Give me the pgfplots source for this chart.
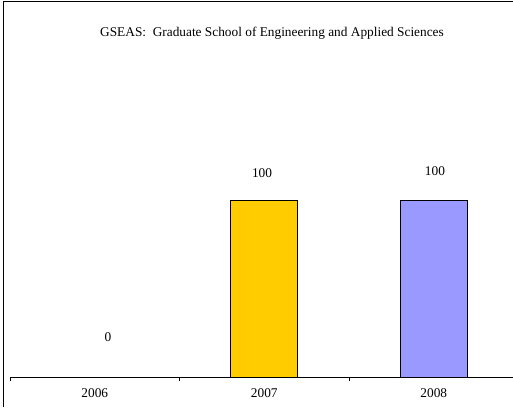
\documentclass[border=0pt]{standalone}
\usepackage{pgfplots}
\pgfplotsset{compat=1.18}
\usepackage{fontspec}
\setmainfont{Liberation Serif}
\begin{document}
\begin{tikzpicture}[x=0.75pt,y=0.75pt,font=\fontsize{10}{12}\selectfont]
\useasboundingbox (0,0) rectangle (513,407);
\draw[line width=0.75pt] (3,0) -- (3,405) -- (512.5,405);
\node at (272,374) {GSEAS:\ \ Graduate School of Engineering and Applied Sciences};
\begin{axis}[
  scale only axis,
  anchor=south west,
  at={(7.5pt,22.5pt)},
  width=377.25pt, height=264pt,
  xmin=-0.5, xmax=2.4676, ymin=0, ymax=200,
  hide y axis,
  axis x line*=bottom,
  x axis line style={-, line width=0.6pt},
  xtick={0,1,2},
  xticklabels={2006,2007,2008},
  major tick length=0pt,
  extra x ticks={-0.5,0.5,1.5},
  extra x tick labels={},
  extra x tick style={major tick length=3pt, tick align=outside, tick style={line width=0.6pt, black}},
  xticklabel style={font=\fontsize{10}{12}\selectfont, yshift=-5pt},
  ybar, bar width=50.25pt, bar shift=0pt,
  clip=false,
]
\addplot[draw=none, fill=none] coordinates {(0,0)};
\addplot[fill={rgb,255:red,255;green,204;blue,0}, draw=black, line width=0.75pt] coordinates {(1,100)};
\addplot[fill={rgb,255:red,153;green,153;blue,255}, draw=black, line width=0.75pt] coordinates {(2,100)};
\node at (axis cs:0.078,22.7) {0};
\node at (axis cs:0.987,116) {100};
\node at (axis cs:2.007,117) {100};
\end{axis}
\end{tikzpicture}
\end{document}
